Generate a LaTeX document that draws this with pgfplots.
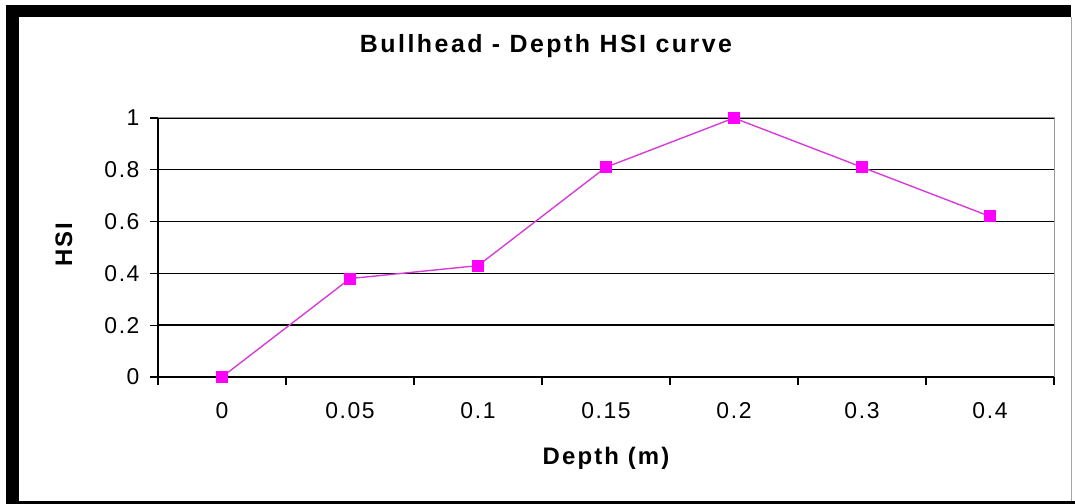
\documentclass[border=0pt]{standalone}
\usepackage{pgfplots}
\pgfplotsset{compat=1.18}
\usepackage{fontspec}
\setmainfont{Liberation Sans}
\newfontfamily\tickfont[LetterSpace=7]{Liberation Sans}
\newfontfamily\labfont[LetterSpace=9]{Liberation Sans}
\newfontfamily\titlefont[LetterSpace=10]{Liberation Sans}
\definecolor{mag}{HTML}{FF00FF}
\definecolor{magline}{HTML}{D83CD8}
\begin{document}
\begin{tikzpicture}
\path (0bp,0bp) rectangle (1075bp,504bp);
% outer frame
\fill[black] (6bp,0bp) rectangle (19bp,499bp);
\fill[black] (6bp,487bp) rectangle (1071bp,499bp);
\fill[black] (6bp,0bp) rectangle (1075bp,3bp);
\draw[gray!70,line width=1bp] (1071bp,3bp) -- (1071bp,487bp);
\begin{axis}[
  at={(158bp,127bp)}, anchor=south west,
  scale only axis, width=896bp, height=259bp,
  xmin=-0.5, xmax=6.5, ymin=0, ymax=1,
  xtick={0,...,6},
  xticklabels={0,0.05,0.1,0.15,0.2,0.3,0.4},
  ytick={0,0.2,...,1},
  yticklabels={0,0.2,0.4,0.6,0.8,1},
  xtick pos=bottom, ytick pos=left,
  tick align=outside,
  major tick length=8bp,
  x tick style={draw=none},
  y tick style={black,line width=1.3bp},
  extra x ticks={-0.5,0.5,...,6.5},
  extra x tick labels={},
  extra x tick style={x tick style={draw=black,line width=1.3bp},major tick length=8bp},
  ymajorgrids,
  major grid style={black,line width=1.4bp},
  axis line style={draw=gray!80,line width=1bp},
  tick label style={font=\fontsize{23}{27}\tickfont},
  xticklabel style={yshift=-14bp},
  yticklabel style={xshift=-7bp},
  title={\fontsize{25}{29}\titlefont\bfseries Bullhead - Depth HSI curve},
  title style={at={(rel axis cs:0.433,1.255)},anchor=center},
  xlabel={\fontsize{24}{28}\labfont\bfseries Depth (m)},
  xlabel style={at={(rel axis cs:0.5,-0.313)},anchor=center},
  ylabel={\fontsize{24}{28}\labfont\bfseries HSI},
  ylabel style={at={(rel axis cs:-0.105,0.51)},anchor=center},
  clip=false,
]
\addplot[color=magline, line width=1.4bp, mark=square*, mark size=5.5bp,
  mark options={draw=mag, fill=mag, line width=0pt}]
  coordinates {(0,0) (1,0.38) (2,0.43) (3,0.81) (4,1.0) (5,0.81) (6,0.62)};
\draw[black,line width=1.5bp] (rel axis cs:0,1) -- (rel axis cs:0,0) -- (rel axis cs:1,0);
\end{axis}
\end{tikzpicture}
\end{document}
